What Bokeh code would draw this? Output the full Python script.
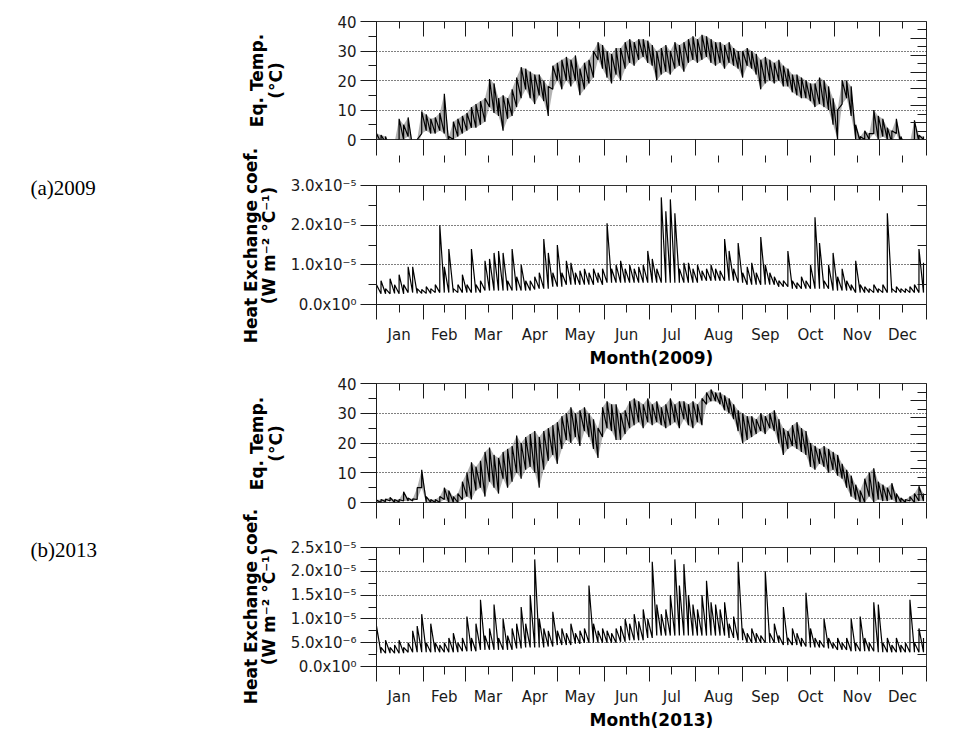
from math import pi
from bokeh.plotting import figure
from bokeh.models import Range1d, LinearAxis, FixedTicker, Grid
from bokeh.layouts import column, row
from bokeh.core.properties import value
from bokeh.embed import file_html
from bokeh.resources import INLINE

# ---------------- data ----------------
months = ["Jan", "Feb", "Mar", "Apr", "May", "Jun", "Jul", "Aug", "Sep", "Oct", "Nov", "Dec"]
month_starts = [0, 31, 59, 90, 120, 151, 181, 212, 243, 273, 304, 334, 365]
days = list(range(0, 364, 3))  # sample day-of-year (every 3 days)

# Equilibrium temperature (degC), low / high within each 3-day window
temp2009_lo = [-2, -1, -1, -4, -4, 0, 0, 1, -3, -3,
               2, 3, 2, 2, 3, 2, -2, 0, 1, 2,
               3, 4, 4, 5, 6, 11, 9, 8, 3, 7,
               8, 11, 14, 17, 14, 12, 15, 13, 8, 17,
               20, 17, 20, 18, 20, 15, 17, 19, 21, 27,
               24, 21, 19, 22, 20, 24, 26, 25, 27, 28,
               26, 25, 20, 22, 23, 22, 24, 25, 23, 26,
               27, 26, 27, 28, 26, 25, 26, 24, 26, 25,
               24, 21, 25, 24, 22, 17, 19, 20, 19, 20,
               18, 18, 16, 15, 14, 14, 13, 11, 12, 11,
               10, 5, 0, 12, 14, 8, 0, -1, 0, 0,
               2, 0, 1, 0, -1, 2, -2, -3, -3, 0,
               -1, 0]
temp2009_hi = [2, 1.5, 1, -1, -1, 7, 5, 7.5, -1, 0,
               9.5, 8.5, 7, 7.5, 9, 15.5, 1, 6, 7, 8,
               9, 11, 12, 13, 14, 20.5, 19, 14, 15, 14,
               17, 21, 24.5, 24, 23, 22, 22, 20, 18, 25,
               26, 27, 28, 27, 28.5, 24, 26, 27, 30, 33,
               32, 30, 29, 31, 31, 33, 34, 33, 34, 34,
               33.5, 32, 30, 31, 32, 30, 33, 32, 33, 34,
               35, 34, 35.5, 35, 34, 33, 33, 32, 33, 31,
               30, 30, 31, 30, 29, 27, 28, 27, 26, 27,
               25, 24, 22, 22, 21, 20, 19, 19, 21, 20,
               18, 14, 10, 20, 20, 18, 5, 1, 3, 2,
               10, 8, 7, 4, 3, 7, 1, -1, -1, 6.5,
               1.5, 1]
temp2013_lo = [0, 0, 0.3, 0.5, 0, 0.2, 0.5, 0.5, 0.5, 1,
               5, 0, 0, 0, 0, 1, 0, 0, 0, 1,
               2, 1, 4, 5, 2, 7, 5, 3, 8, 5,
               7, 10, 8, 11, 12, 10, 5, 11, 14, 16,
               13, 18, 21, 20, 22, 19, 24, 22, 18, 15,
               22, 25, 24, 21, 21, 23, 25, 26, 27, 25,
               27, 26, 27, 26, 25, 26, 27, 25, 28, 26,
               25, 27, 26, 33, 34, 34, 33, 31, 30, 28,
               24, 20, 21, 22, 23, 24, 23, 25, 24, 20,
               16, 18, 19, 18, 17, 16, 12, 11, 13, 12,
               10, 11, 9, 8, 5, 2, 1, 0, 0, 2,
               0, 1, 0.5, 0.5, 1, 0, 0, 0, 0.5, 0,
               0.5, 0.5]
temp2013_hi = [0.8, 1, 1.2, 1.7, 1, 1, 3.6, 1.5, 1.2, 5,
               11, 2, 1, 1, 2, 5, 4, 2, 3, 7,
               10, 13.5, 12, 14, 17, 18.5, 16, 15, 17, 18,
               19, 22.5, 20, 22, 23, 24, 22, 24, 25, 26,
               27, 29, 30, 32, 30, 31, 32, 30, 28, 25,
               32, 34, 33, 33, 30, 31, 34, 35, 34, 33,
               35, 33, 34, 32, 33, 35, 33, 34, 34, 33,
               34, 33, 35, 37, 38, 37, 37, 36, 35, 33,
               31, 30, 29, 29, 28, 30, 29, 30, 31, 28,
               25, 24, 26, 27, 25, 24, 20, 19, 18, 19,
               18, 17, 16, 13, 11, 9, 6, 4, 8, 10,
               11.5, 7, 6, 5, 6.5, 3, 1.5, 1, 2, 3,
               5.5, 3]

# Heat exchange coefficient, in units of 1e-6 W m-2 degC-1
heat2009_lo = [2.7, 2.7, 2.7, 2.7, 2.8, 2.7, 2.7, 3, 3, 2.8,
               2.8, 2.8, 2.8, 3, 3, 3, 3, 3, 3, 3,
               3, 3, 3, 3, 3.5, 3.5, 3.5, 3.5, 3.5, 3.5,
               3.5, 3.5, 3.5, 3.5, 3.5, 3.8, 4, 4, 4, 4.5,
               4.5, 4.5, 5, 5, 5, 5, 5, 5, 5, 5.5,
               5, 5.5, 5.5, 5.5, 5.5, 5.5, 5.5, 5.5, 5.5, 5.5,
               5.5, 5.5, 5.5, 5.5, 5.5, 5.5, 5.5, 5.5, 5.5, 5.5,
               5.5, 5.5, 6, 6, 6, 6, 6, 6, 6, 6,
               5.5, 5.5, 5, 5, 5, 5, 5, 5, 5, 4.5,
               4.5, 4.5, 4, 4, 4, 4, 4, 4, 4, 4,
               4, 3.5, 3.5, 3.5, 3.5, 3.5, 3, 3, 3, 3,
               3, 3, 3, 3, 3, 3, 3, 3, 3, 3,
               3, 3]
heat2009_hi = [5, 6, 4, 6.5, 5, 7.5, 5, 9.5, 9.5, 4,
               3.8, 4.5, 4, 5, 20, 9.5, 14, 4, 5, 7.5,
               5, 14, 5, 6, 11, 11.5, 13, 13.5, 13, 6,
               14, 7, 10, 6, 6, 7, 8, 16.5, 13, 8,
               15, 8, 11, 10.5, 8, 8.5, 9, 8, 9, 8,
               9, 20.5, 9, 10, 11, 9, 10, 9, 9.5, 10,
               13.5, 11.5, 9, 27, 23.5, 26.5, 23, 9, 10.5, 10.5,
               9, 10, 8.5, 9, 10, 9, 8.5, 16.5, 13.5, 9,
               15.5, 8, 9.5, 10.5, 8, 17, 10, 8, 7, 6,
               6, 13.5, 6, 5.5, 7, 6, 10, 22, 15.5, 6,
               10, 13, 7, 9, 6, 5, 11, 5, 4.5, 4,
               5, 4, 5, 23, 4, 4.5, 4, 4, 4.5, 5,
               14, 10.5]
heat2013_lo = [3, 2.8, 2.8, 2.8, 2.8, 2.8, 2.8, 3, 3, 3,
               3, 3, 3, 3, 3, 3, 3, 3, 3, 3.2,
               3.2, 3.2, 3.2, 3.5, 3.5, 3.5, 3.5, 3.5, 3.5, 3.5,
               3.5, 3.8, 3.8, 4, 4, 4, 4, 4, 4.2, 4.2,
               4.5, 4.5, 4.5, 4.5, 4.8, 4.8, 5, 5, 5, 5,
               5, 5, 5, 5, 5.2, 5.2, 5.5, 5.5, 5.5, 5.5,
               6, 6, 6.5, 6.5, 6.5, 6.5, 6.5, 6.5, 6.5, 6.5,
               6.5, 6.5, 6.5, 6.5, 6.5, 6.5, 6.5, 6.5, 6, 6,
               5.5, 5.5, 5, 5, 5, 5, 5, 5, 5, 5,
               4.5, 4.5, 4.5, 4.5, 4.2, 4.2, 4, 4, 4, 4,
               3.8, 3.8, 3.5, 3.5, 3.5, 3.2, 3.2, 3.2, 3.2, 3.2,
               3.2, 3, 3, 3, 3, 3, 3, 3, 3, 3,
               3, 3]
heat2013_hi = [8.5, 4, 5.5, 4, 4.5, 5.5, 4, 5, 7.5, 8.5,
               11, 5, 9, 5, 4.5, 5, 6, 7, 5, 6,
               10.5, 6, 9, 14, 6.5, 8, 13, 6, 10, 6.5,
               8, 9, 12.5, 9, 15, 22.5, 10, 8, 7.5, 11.5,
               7.5, 8, 7, 9, 7, 7.5, 8, 17, 9, 7.5,
               8, 7.5, 7, 8, 8.5, 10, 9, 11, 9.5, 12,
               10, 22, 13, 11, 12, 15, 22.5, 17, 21.5, 15,
               13, 12, 15, 18, 13.5, 13, 12, 13.5, 9, 10.5,
               22, 8, 7, 8, 7, 6.5, 20, 7, 9, 6.5,
               12.5, 6, 8, 7, 6, 15.5, 8, 6, 5.5, 10,
               6, 5, 6, 5, 6, 10, 5, 10.5, 6, 5,
               13.5, 13, 5, 6, 4.5, 6, 4.5, 5, 14, 5,
               8, 6]

temp_ticks = [0, 10, 20, 30, 40]
heat2009_ticks = [0, 10, 20, 30]
heat2009_labels = ["0.0x10\u2070", "1.0x10\u207b\u2075", "2.0x10\u207b\u2075", "3.0x10\u207b\u2075"]
heat2013_ticks = [0, 5, 10, 15, 20, 25]
heat2013_labels = ["0.0x10\u2070", "5.0x10\u207b\u2076", "1.0x10\u207b\u2075",
                   "1.5x10\u207b\u2075", "2.0x10\u207b\u2075", "2.5x10\u207b\u2075"]

temp_title = ["Eq. Temp.", "(\u00b0C)"]
heat_title = ["Heat Exchange coef.", "(W m\u207b\u00b2 \u00b0C\u207b\u00b9)"]
year_tags = ["(a)2009", "(b)2013"]

# ---------------- styling ----------------
FONT = "DejaVu Sans"
INK = "#1a1a1a"
LEFT_W = 287          # width of the left text column
PANEL_W = 651         # panel figure width
mids = [(a + b) // 2 for a, b in zip(month_starts[:-1], month_starts[1:])]


def sawtooth(d, lo, hi):
    n = min(len(d), len(lo), len(hi))
    xs, ys = [], []
    for i in range(n):
        xs += [d[i], d[i]]
        ys += [lo[i], hi[i]]
    return xs, ys


def halves(ticks):
    return [(a + b) / 2 for a, b in zip(ticks[:-1], ticks[1:])]


def tick_axis(positions, tin, tout, **extra):
    """Axis that only draws tick marks (no labels, no line)."""
    return LinearAxis(ticker=FixedTicker(ticks=[], minor_ticks=positions),
                      major_tick_in=0, major_tick_out=0,
                      minor_tick_in=tin, minor_tick_out=tout,
                      minor_tick_line_color=INK, minor_tick_line_width=1,
                      axis_line_color=None, major_label_standoff=0, **extra)


def make_panel(height, top, bottom, ymax, ticks, labels, grid_ticks,
               right_long, right_max, lo, hi, xtitle=None, band=False):
    p = figure(width=PANEL_W, height=height, x_range=Range1d(0, 365), y_range=Range1d(0, ymax),
               output_backend="svg", toolbar_location=None,
               x_axis_location=None, y_axis_location=None,
               min_border_left=86, min_border_right=12,
               min_border_top=top, min_border_bottom=bottom)
    p.xgrid.visible = False
    p.ygrid.visible = False
    p.outline_line_color = "#333333"
    p.outline_line_width = 1
    p.background_fill_color = "white"
    p.border_fill_color = "white"

    p.add_layout(Grid(dimension=1, ticker=FixedTicker(ticks=grid_ticks),
                      grid_line_color="black", grid_line_dash="1 2", grid_line_width=1))

    # left axis with labels
    la = LinearAxis(ticker=FixedTicker(ticks=ticks, minor_ticks=halves(ticks)),
                    major_tick_out=16, major_tick_in=0, minor_tick_out=8, minor_tick_in=0,
                    major_tick_line_color=INK, minor_tick_line_color=INK, axis_line_color=INK,
                    major_label_standoff=4, major_label_text_font=FONT,
                    major_label_text_font_size="15px", major_label_text_color=INK)
    if labels is not None:
        la.major_label_overrides = {t: s for t, s in zip(ticks, labels)}
    p.add_layout(la, "left")

    # right side: ticks pointing inward
    p.extra_y_ranges = {"r": Range1d(0, right_max)}
    p.add_layout(tick_axis(right_long, 16, 0, y_range_name="r"), "right")
    p.add_layout(tick_axis(halves([0] + right_long + [right_max]), 9, 0, y_range_name="r"), "right")

    # top: ticks pointing inward
    p.add_layout(tick_axis(month_starts, 15, 0), "above")
    p.add_layout(tick_axis(mids, 7, 0), "above")

    # bottom
    if xtitle is None:
        p.add_layout(tick_axis(month_starts, 0, 16), "below")
        p.add_layout(tick_axis(mids, 0, 7), "below")
    else:
        ba = LinearAxis(ticker=FixedTicker(ticks=mids, minor_ticks=month_starts),
                        major_tick_in=0, major_tick_out=8, minor_tick_in=0, minor_tick_out=15,
                        major_tick_line_color=INK, minor_tick_line_color=INK, axis_line_color=INK,
                        major_label_overrides={m: s for m, s in zip(mids, months)},
                        major_label_text_font=FONT, major_label_text_font_size="15px",
                        major_label_text_color=INK, major_label_standoff=6,
                        axis_label=xtitle, axis_label_text_font=FONT,
                        axis_label_text_font_style="bold", axis_label_text_font_size="17px",
                        axis_label_text_color="black", axis_label_standoff=1)
        p.add_layout(ba, "below")

    n = min(len(days), len(lo), len(hi))
    if band:
        p.varea(x=days[:n], y1=lo[:n], y2=hi[:n], fill_color="black", fill_alpha=0.3)
    xs, ys = sawtooth(days, lo, hi)
    p.line(xs, ys, line_color="black", line_width=1.2)
    return p


p1 = make_panel(163, 21, 24, 40, temp_ticks, None, [10, 20, 30],
                [1, 2, 3, 4, 5, 6], 7, temp2009_lo, temp2009_hi, band=True)
p2 = make_panel(207, 22, 66, 30, heat2009_ticks, heat2009_labels, [10, 20],
                [10, 20], 30, heat2009_lo, heat2009_hi, xtitle="Month(2009)")
p3 = make_panel(155, 13, 22, 40, temp_ticks, None, [10, 20, 30],
                [1, 2, 3, 4, 5, 6], 7, temp2013_lo, temp2013_hi, band=True)
p4 = make_panel(210, 22, 69, 25, heat2013_ticks, heat2013_labels, [5, 10, 15, 20],
                [5, 10, 15, 20], 25, heat2013_lo, heat2013_hi, xtitle="Month(2013)")

# ---------------- left text column ----------------
TOTAL_H = 163 + 207 + 155 + 210
lf = figure(width=LEFT_W, height=TOTAL_H, x_range=Range1d(0, LEFT_W), y_range=Range1d(TOTAL_H, 0),
            output_backend="svg", toolbar_location=None,
            x_axis_location=None, y_axis_location=None, min_border=0)
lf.xgrid.visible = False
lf.ygrid.visible = False
lf.outline_line_color = None
lf.background_fill_color = "white"
lf.border_fill_color = "white"

# panel centres (pixels from top) and title line positions (pixels from left)
panel_mid = [80, 245, 443, 606]
titles = [temp_title, heat_title, temp_title, heat_title]
line_x = {0: (256, 275), 1: (250, 268)}
tx, ty, tt = [], [], []
for i, (mid, t) in enumerate(zip(panel_mid, titles)):
    xa, xb = line_x[i % 2]
    tx += [xa, xb]
    ty += [mid, mid]
    tt += t
lf.text(x=tx, y=ty, text=tt, angle=pi / 2, text_font=value(FONT), text_font_style="bold",
        text_font_size="17px", text_align="center", text_baseline="middle", text_color="black")
lf.text(x=[30, 30], y=[187, 549], text=year_tags, text_font=value("Liberation Serif"),
        text_font_size="21px", text_align="left", text_baseline="middle", text_color="black")

layout = row(lf, column(p1, p2, p3, p4, spacing=0), spacing=0)
open("out.html", "w").write(file_html(layout, INLINE))
